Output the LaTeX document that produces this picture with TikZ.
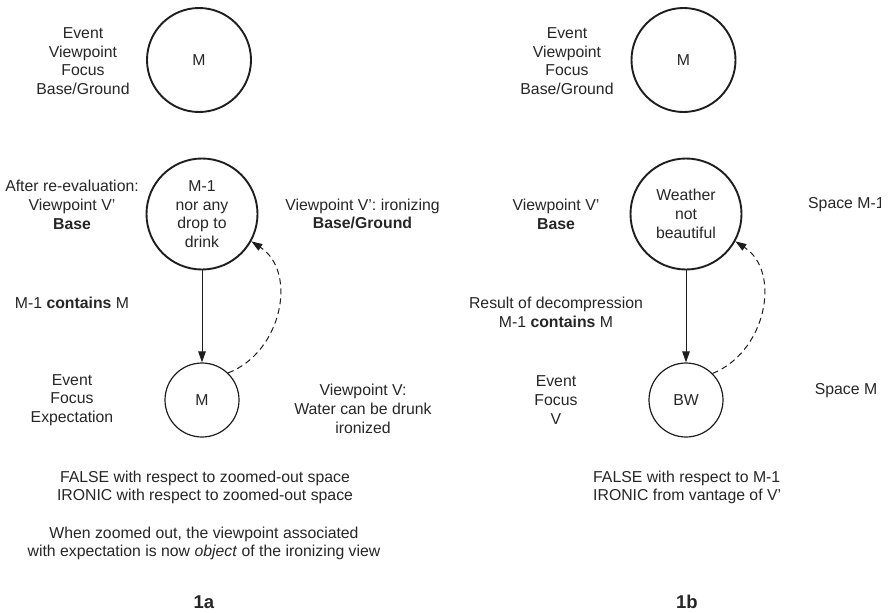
\documentclass[tikz,border=0pt]{standalone}
\usepackage{fontspec}
\setmainfont{Liberation Sans}
\usetikzlibrary{arrows.meta}
\definecolor{ink}{RGB}{30,30,30}
\definecolor{txt}{RGB}{38,38,38}
\begin{document}
\begin{tikzpicture}[x=1pt,y=-1pt,
  every node/.style={text=txt, font=\fontsize{15.8}{18.7}\selectfont, inner sep=0pt, align=center},
  space/.style={circle, draw=ink, line width=1.9pt, inner sep=0pt},
  bigspace/.style={space, minimum size=111pt},
  topspace/.style={space, minimum size=104pt},
  smallspace/.style={circle, draw=ink, line width=1.2pt, inner sep=0pt, minimum size=74pt},
  link/.style={draw=ink, line width=1pt, -{Triangle[length=11pt,width=7.5pt]}},
  irony/.style={draw=ink, line width=1pt, dash pattern=on 6pt off 4pt, -{Triangle[length=11pt,width=7.5pt]}},
  caption/.style={font=\fontsize{18.5}{20}\selectfont\bfseries}
]
\useasboundingbox (0,0) rectangle (889,613);
\clip (0,0) rectangle (880,613);

% ---------- panel 1a ----------
\node[topspace] (aTop) at (199,60) {M};
\node[bigspace] (aMid) at (202,214) {M-1\\nor any\\drop to\\drink};
\node[smallspace] (aLow) at (202,400) {M};

\node (aTopL) at (83,61) {Event\\Viewpoint\\Focus\\Base/Ground};
\node (aMidL) at (72,205) {After re-evaluation:\\Viewpoint V'\\\textbf{Base}};
\node (aMidR) at (362.5,214) {Viewpoint V': ironizing\\\textbf{Base/Ground}};
\node (aCont) at (72,303) {M-1 \textbf{contains} M};
\node (aLowL) at (72,400) {Event\\Focus\\Expectation};
\node (aLowR) at (363,409) {Viewpoint V:\\Water can be drunk\\ironized};
\node (aNote1) at (205,487.5) {FALSE with respect to zoomed-out space\\IRONIC with respect to zoomed-out space};
\node (aNote2) at (204,543.5) {When zoomed out, the viewpoint associated\\with expectation is now \textit{object} of the ironizing view};
\node[caption] (aCap) at (204,602) {1a};

\draw[link] (aMid) -- (aLow);
\draw[irony] (aLow.46) .. controls (282,352) and (298,272) .. (aMid.-29);

% ---------- panel 1b ----------
\node[topspace] (bTop) at (683.5,60) {M};
\node[bigspace] (bMid) at (686,214) {Weather\\not\\beautiful};
\node[smallspace] (bLow) at (686,400) {BW};

\node (bTopL) at (567,61) {Event\\Viewpoint\\Focus\\Base/Ground};
\node (bMidL) at (556,214) {Viewpoint V'\\\textbf{Base}};
\node[anchor=west] (bMidR) at (808,205) {Space M-1};
\node (bCont) at (556,312.5) {Result of decompression\\M-1 \textbf{contains} M};
\node (bLowL) at (556,400) {Event\\Focus\\V};
\node (bLowR) at (846,391) {Space M};
\node[anchor=west, align=left] (bNote) at (593,487.5) {FALSE with respect to M-1\\IRONIC from vantage of V'};
\node[caption] (bCap) at (687,602) {1b};

\draw[link] (bMid) -- (bLow);
\draw[irony] (bLow.45) .. controls (766,352) and (782,272) .. (bMid.-29);
\end{tikzpicture}
\end{document}
